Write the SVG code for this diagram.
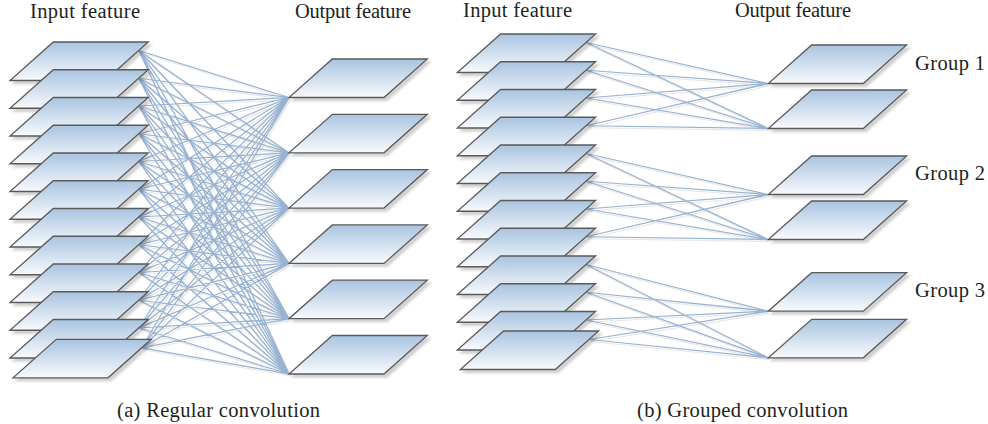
<svg xmlns="http://www.w3.org/2000/svg" xmlns:xlink="http://www.w3.org/1999/xlink" width="988" height="424" viewBox="0 0 988 424">
  <style>
    .plate { fill: url(#plateFill); stroke: #5a5a5a; stroke-width: 1.3; stroke-linejoin: miter; filter: url(#plateShadow); }
    .wire { fill: none; stroke: #97b2d2; stroke-width: 1.25; }
    .wireShadow { fill: none; stroke: #d6d6d6; stroke-width: 1.1; opacity: 0.6; }
  </style>
  <defs>
    <linearGradient id="plateFill" x1="0" y1="0" x2="0" y2="1">
      <stop offset="0" stop-color="#a9c4e0"/>
      <stop offset="1" stop-color="#f8fafd"/>
    </linearGradient>
    <filter id="plateShadow" x="-10%" y="-10%" width="130%" height="140%">
      <feDropShadow dx="3" dy="3" stdDeviation="1.3" flood-color="#000" flood-opacity="0.18"/>
    </filter>
    <!-- one feature map: a parallelogram, origin at its bottom-left x / top y -->
    <polygon id="plate" class="plate" points="43.3,0 138.3,0 95,38.5 0,38.5"/>

    <!-- regular convolution: every input map feeds every output map -->
    <path id="wiresA" d="
      M138.8 50.5L289 97.5M138.8 50.5L289 152.8M138.8 50.5L289 208.1M138.8 50.5L289 263.4M138.8 50.5L289 318.7M138.8 50.5L289 374
      M138.8 78.25L289 97.5M138.8 78.25L289 152.8M138.8 78.25L289 208.1M138.8 78.25L289 263.4M138.8 78.25L289 318.7M138.8 78.25L289 374
      M138.8 106L289 97.5M138.8 106L289 152.8M138.8 106L289 208.1M138.8 106L289 263.4M138.8 106L289 318.7M138.8 106L289 374
      M138.8 133.75L289 97.5M138.8 133.75L289 152.8M138.8 133.75L289 208.1M138.8 133.75L289 263.4M138.8 133.75L289 318.7M138.8 133.75L289 374
      M138.8 161.5L289 97.5M138.8 161.5L289 152.8M138.8 161.5L289 208.1M138.8 161.5L289 263.4M138.8 161.5L289 318.7M138.8 161.5L289 374
      M138.8 189.25L289 97.5M138.8 189.25L289 152.8M138.8 189.25L289 208.1M138.8 189.25L289 263.4M138.8 189.25L289 318.7M138.8 189.25L289 374
      M138.8 217L289 97.5M138.8 217L289 152.8M138.8 217L289 208.1M138.8 217L289 263.4M138.8 217L289 318.7M138.8 217L289 374
      M138.8 244.75L289 97.5M138.8 244.75L289 152.8M138.8 244.75L289 208.1M138.8 244.75L289 263.4M138.8 244.75L289 318.7M138.8 244.75L289 374
      M138.8 272.5L289 97.5M138.8 272.5L289 152.8M138.8 272.5L289 208.1M138.8 272.5L289 263.4M138.8 272.5L289 318.7M138.8 272.5L289 374
      M138.8 300.25L289 97.5M138.8 300.25L289 152.8M138.8 300.25L289 208.1M138.8 300.25L289 263.4M138.8 300.25L289 318.7M138.8 300.25L289 374
      M138.8 328L289 97.5M138.8 328L289 152.8M138.8 328L289 208.1M138.8 328L289 263.4M138.8 328L289 318.7M138.8 328L289 374
      M141.8 347.8L289 97.5M141.8 347.8L289 152.8M141.8 347.8L289 208.1M141.8 347.8L289 263.4M141.8 347.8L289 318.7M141.8 347.8L289 374"/>

    <!-- grouped convolution: four inputs per group, two outputs per group -->
    <path id="wiresB" d="
      M586.1 42.5L768.3 83.5M586.1 42.5L768.3 128.5
      M586.1 70.25L768.3 83.5M586.1 70.25L768.3 128.5
      M586.1 98L768.3 83.5M586.1 98L768.3 128.5
      M586.1 125.75L768.3 83.5M586.1 125.75L768.3 128.5
      M586.1 153.5L768.3 194.5M586.1 153.5L768.3 239.5
      M586.1 181.25L768.3 194.5M586.1 181.25L768.3 239.5
      M586.1 209L768.3 194.5M586.1 209L768.3 239.5
      M586.1 236.75L768.3 194.5M586.1 236.75L768.3 239.5
      M586.1 264.5L768.3 311.2M586.1 264.5L768.3 357.8
      M586.1 292.25L768.3 311.2M586.1 292.25L768.3 357.8
      M586.1 320L768.3 311.2M586.1 320L768.3 357.8
      M589.1 339.5L768.3 311.2M589.1 339.5L768.3 357.8"/>
  </defs>

  <rect width="988" height="424" fill="#ffffff"/>

  <!-- connectors, drawn under the maps -->
  <g id="connectors">
    <use xlink:href="#wiresA" class="wireShadow" transform="translate(1.5,2)"/>
    <use xlink:href="#wiresB" class="wireShadow" transform="translate(1.5,2)"/>
    <use xlink:href="#wiresA" class="wire"/>
    <use xlink:href="#wiresB" class="wire"/>
  </g>

  <!-- (a) input maps -->
  <g id="a-in-1"><use xlink:href="#plate" transform="translate(10,42)"/></g>
  <g id="a-in-2"><use xlink:href="#plate" transform="translate(10,69.75)"/></g>
  <g id="a-in-3"><use xlink:href="#plate" transform="translate(10,97.5)"/></g>
  <g id="a-in-4"><use xlink:href="#plate" transform="translate(10,125.25)"/></g>
  <g id="a-in-5"><use xlink:href="#plate" transform="translate(10,153)"/></g>
  <g id="a-in-6"><use xlink:href="#plate" transform="translate(10,180.75)"/></g>
  <g id="a-in-7"><use xlink:href="#plate" transform="translate(10,208.5)"/></g>
  <g id="a-in-8"><use xlink:href="#plate" transform="translate(10,236.25)"/></g>
  <g id="a-in-9"><use xlink:href="#plate" transform="translate(10,264)"/></g>
  <g id="a-in-10"><use xlink:href="#plate" transform="translate(10,291.75)"/></g>
  <g id="a-in-11"><use xlink:href="#plate" transform="translate(10,319.5)"/></g>
  <g id="a-in-12"><use xlink:href="#plate" transform="translate(13,339.3)"/></g>

  <!-- (a) output maps -->
  <g id="a-out-1"><use xlink:href="#plate" transform="translate(289,59)"/></g>
  <g id="a-out-2"><use xlink:href="#plate" transform="translate(289,114.3)"/></g>
  <g id="a-out-3"><use xlink:href="#plate" transform="translate(289,169.6)"/></g>
  <g id="a-out-4"><use xlink:href="#plate" transform="translate(289,224.9)"/></g>
  <g id="a-out-5"><use xlink:href="#plate" transform="translate(289,280.2)"/></g>
  <g id="a-out-6"><use xlink:href="#plate" transform="translate(289,335.5)"/></g>

  <!-- (b) input maps -->
  <g id="b-in-1"><use xlink:href="#plate" transform="translate(457.3,34)"/></g>
  <g id="b-in-2"><use xlink:href="#plate" transform="translate(457.3,61.75)"/></g>
  <g id="b-in-3"><use xlink:href="#plate" transform="translate(457.3,89.5)"/></g>
  <g id="b-in-4"><use xlink:href="#plate" transform="translate(457.3,117.25)"/></g>
  <g id="b-in-5"><use xlink:href="#plate" transform="translate(457.3,145)"/></g>
  <g id="b-in-6"><use xlink:href="#plate" transform="translate(457.3,172.75)"/></g>
  <g id="b-in-7"><use xlink:href="#plate" transform="translate(457.3,200.5)"/></g>
  <g id="b-in-8"><use xlink:href="#plate" transform="translate(457.3,228.25)"/></g>
  <g id="b-in-9"><use xlink:href="#plate" transform="translate(457.3,256)"/></g>
  <g id="b-in-10"><use xlink:href="#plate" transform="translate(457.3,283.75)"/></g>
  <g id="b-in-11"><use xlink:href="#plate" transform="translate(457.3,311.5)"/></g>
  <g id="b-in-12"><use xlink:href="#plate" transform="translate(460.3,331)"/></g>

  <!-- (b) output maps, two per group -->
  <g id="b-out-1"><use xlink:href="#plate" transform="translate(768.3,45)"/></g>
  <g id="b-out-2"><use xlink:href="#plate" transform="translate(768.3,90)"/></g>
  <g id="b-out-3"><use xlink:href="#plate" transform="translate(768.3,156)"/></g>
  <g id="b-out-4"><use xlink:href="#plate" transform="translate(768.3,201)"/></g>
  <g id="b-out-5"><use xlink:href="#plate" transform="translate(768.3,272.7)"/></g>
  <g id="b-out-6"><use xlink:href="#plate" transform="translate(768.3,319.3)"/></g>

  <!-- labels -->
  <g id="labels" font-family="Liberation Serif" font-size="20.5" fill="#231f20">
    <text x="30" y="18" textLength="110" lengthAdjust="spacing">Input feature</text>
    <text x="295" y="18" textLength="116" lengthAdjust="spacing">Output feature</text>
    <text x="463" y="17" textLength="109" lengthAdjust="spacing">Input feature</text>
    <text x="735" y="17" textLength="116" lengthAdjust="spacing">Output feature</text>
    <text x="915" y="70" textLength="70" lengthAdjust="spacing">Group 1</text>
    <text x="915" y="180" textLength="70" lengthAdjust="spacing">Group 2</text>
    <text x="915" y="297" textLength="70" lengthAdjust="spacing">Group 3</text>
    <text x="117" y="417" textLength="203" lengthAdjust="spacing">(a) Regular convolution</text>
    <text x="637" y="417" textLength="211" lengthAdjust="spacing">(b) Grouped convolution</text>
  </g>
</svg>
